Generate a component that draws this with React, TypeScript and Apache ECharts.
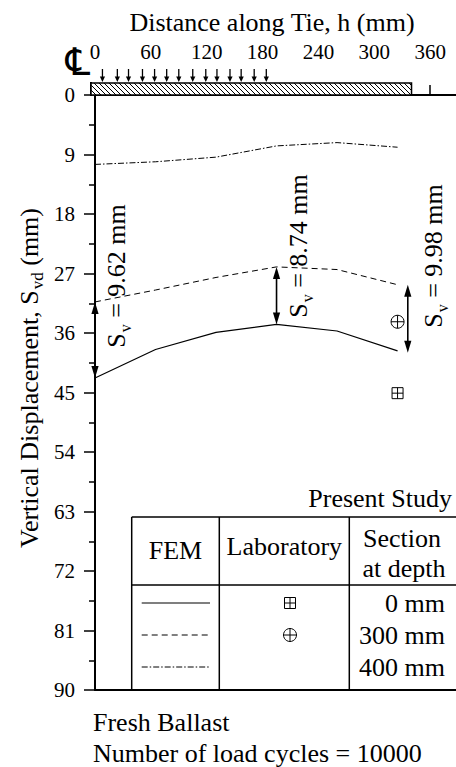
import React, { useEffect, useRef } from "react";
import * as echarts from "echarts";

// ---------- data ----------
const distanceH = [0, 65, 130, 195, 260, 325];
const fem0mm = [42.8, 38.5, 35.9, 34.7, 35.7, 38.7];
const fem300mm = [31.3, 29.5, 27.6, 26.0, 26.4, 28.7];
const fem400mm = [10.5, 10.1, 9.4, 7.7, 7.2, 7.9];
const labH = [325, 325];
const labValue = [45.1, 34.3];
const labKind = ["square", "circle"];
const svH = [0, 195, 336];
const svTop = [31.3, 26.0, 28.7];
const svBottom = [42.8, 34.7, 39.0];
const svValues = ["9.62", "8.74", "9.98"];
const loadH = [8, 24, 36, 51, 64, 77, 90, 105, 119, 131, 145, 157, 171, 184];
const tieLength = 340;
const xMin = 0;
const xMax = 420;
const xInterval = 60;
const xLastLabel = 360;
const yMin = 0;
const yMax = 90;
const yInterval = 9;
const legendDepths = ["0 mm", "300 mm", "400 mm"];

// ---------- styles ----------
const FONT = "'Liberation Serif', 'Times New Roman', serif";
const BLACK = "#000";
const TOP_OFFSET = 12;
const DASH = [6, 4];
const DASHDOT = [6, 2, 1.5, 2];

function squarePlus(x: number, y: number, s: number) {
  const h = s / 2;
  return [
    { type: "rect", shape: { x: x - h, y: y - h, width: s, height: s }, style: { fill: "none", stroke: BLACK, lineWidth: 1 } },
    { type: "line", shape: { x1: x - h, y1: y, x2: x + h, y2: y }, style: { stroke: BLACK, lineWidth: 1 } },
    { type: "line", shape: { x1: x, y1: y - h, x2: x, y2: y + h }, style: { stroke: BLACK, lineWidth: 1 } },
  ];
}
function circlePlus(x: number, y: number, r: number) {
  return [
    { type: "circle", shape: { cx: x, cy: y, r }, style: { fill: "none", stroke: BLACK, lineWidth: 1 } },
    { type: "line", shape: { x1: x - r, y1: y, x2: x + r, y2: y }, style: { stroke: BLACK, lineWidth: 1 } },
    { type: "line", shape: { x1: x, y1: y - r, x2: x, y2: y + r }, style: { stroke: BLACK, lineWidth: 1 } },
  ];
}

function rotatedLabel(x: number, y: number, value: string) {
  return {
    type: "text",
    x,
    y,
    rotation: Math.PI / 2,
    style: {
      text: `{s|S}{v|v}{s| = ${value} mm}`,
      align: "center",
      verticalAlign: "middle",
      fill: BLACK,
      rich: {
        s: { fontSize: 26, fontFamily: FONT, fill: BLACK },
        v: { fontSize: 16, fontFamily: FONT, fill: BLACK, padding: [18, 0, 0, 1] },
      },
    },
  };
}

function text(x: number, y: number, t: string, align = "center", size = 26) {
  return {
    type: "text",
    x,
    y,
    style: { text: t, fontSize: size, fontFamily: FONT, fill: BLACK, align, verticalAlign: "middle" },
  };
}
function hline(x1: number, x2: number, y: number, w = 1.5, dash: any = null) {
  return {
    type: "line",
    shape: { x1, y1: y, x2, y2: y },
    style: { stroke: BLACK, lineWidth: w, lineDash: dash },
  };
}
function vline(x: number, y1: number, y2: number, w = 1.5) {
  return { type: "line", shape: { x1: x, y1, x2: x, y2 }, style: { stroke: BLACK, lineWidth: w } };
}

export default function App() {
  const ref = useRef<HTMLDivElement>(null);
  useEffect(() => {
    const chart = echarts.init(ref.current!, null, { renderer: "svg" });

    const tableTop = 517;
    const headerLine = 585;
    const tableBottom = 690;
    const colA = 131.7;
    const colB = 219.3;
    const colC = 349.3;
    const rowY = [603, 635, 667];

    const option: any = {
      animation: false,
      backgroundColor: "#fff",
      textStyle: { fontFamily: FONT, color: BLACK },
      grid: { left: 95, top: 95, width: 391, height: 595, containLabel: false, outerBoundsMode: "none" },
      xAxis: [
        {
          type: "value",
          position: "top",
          min: xMin,
          max: xMax,
          interval: xInterval,
          offset: TOP_OFFSET,
          axisLine: { show: true, lineStyle: { color: BLACK, width: 2 } },
          axisTick: { show: true, length: 10, lineStyle: { color: BLACK, width: 1.5 } },
          minorTick: { show: true, splitNumber: 2, length: 5, lineStyle: { color: BLACK, width: 1.5 } },
          axisLabel: {
            color: BLACK,
            fontSize: 21,
            fontFamily: FONT,
            margin: 21,
            showMaxLabel: false,
            formatter: (v: number) => (v <= xLastLabel ? String(v) : ""),
          },
          splitLine: { show: false },
        },
        {
          type: "value",
          position: "bottom",
          min: xMin,
          max: xMax,
          axisLine: { show: true, lineStyle: { color: BLACK, width: 2 } },
          axisTick: { show: false },
          axisLabel: { show: false },
          splitLine: { show: false },
        },
      ],
      yAxis: {
        type: "value",
        inverse: true,
        min: yMin,
        max: yMax,
        interval: yInterval,
        offset: 4,
        axisLine: { show: true, lineStyle: { color: BLACK, width: 2 } },
        axisTick: { show: true, length: 11, lineStyle: { color: BLACK, width: 1.5 } },
        minorTick: { show: true, splitNumber: 2, length: 6, lineStyle: { color: BLACK, width: 1.5 } },
        axisLabel: { color: BLACK, fontSize: 21, fontFamily: FONT, margin: 16 },
        splitLine: { show: false },
      },
      series: [
        {
          type: "line",
          name: "0 mm",
          data: distanceH.map((h, i) => [h, fem0mm[i]]),
          symbol: "none",
          lineStyle: { color: BLACK, width: 1.2, type: "solid" },
        },
        {
          type: "line",
          name: "300 mm",
          data: distanceH.map((h, i) => [h, fem300mm[i]]),
          symbol: "none",
          lineStyle: { color: BLACK, width: 1, type: DASH },
        },
        {
          type: "line",
          name: "400 mm",
          data: distanceH.map((h, i) => [h, fem400mm[i]]),
          symbol: "none",
          lineStyle: { color: BLACK, width: 1, type: DASHDOT },
        },
        {
          // tie (hatched)
          type: "custom",
          silent: true,
          clip: false,
          data: [[tieLength, 0]],
          encode: { x: 0, y: 1 },
          renderItem: (params: any, api: any) => {
            const cs = params.coordSys;
            const right = api.coord([api.value(0), 0])[0];
            const left = cs.x - 4;
            const bottom = api.coord([0, 0])[1];
            const top = cs.y - TOP_OFFSET;
            const H = bottom - top;
            const children: any[] = [
              { type: "rect", shape: { x: left, y: top, width: right - left, height: H }, style: { fill: "#fff", stroke: BLACK, lineWidth: 1.5 } },
            ];
            for (let x0 = left - H; x0 < right; x0 += 5) {
              const xs = Math.max(x0, left);
              const xe = Math.min(x0 + H, right);
              if (xe <= xs) continue;
              children.push({
                type: "line",
                shape: { x1: xs, y1: top + (xs - x0), x2: xe, y2: top + (xe - x0) },
                style: { stroke: BLACK, lineWidth: 1 },
              });
            }
            return { type: "group", children };
          },
        },
        {
          // load arrows
          type: "custom",
          silent: true,
          clip: false,
          data: loadH.map((h) => [h, 0]),
          encode: { x: 0, y: 1 },
          renderItem: (params: any, api: any) => {
            const cs = params.coordSys;
            const px = api.coord([api.value(0), 0])[0];
            const ya = cs.y - TOP_OFFSET - 1;
            return {
              type: "group",
              children: [
                { type: "line", shape: { x1: px, y1: ya - 13, x2: px, y2: ya - 4 }, style: { stroke: BLACK, lineWidth: 1.3 } },
                { type: "polygon", shape: { points: [[px - 2.6, ya - 5.5], [px + 2.6, ya - 5.5], [px, ya]] }, style: { fill: BLACK } },
              ],
            };
          },
        },
        {
          // S_v double arrows
          type: "custom",
          silent: true,
          clip: false,
          data: svH.map((h, i) => [h, svTop[i], svBottom[i]]),
          encode: { x: 0, y: 1 },
          renderItem: (params: any, api: any) => {
            const a = api.coord([api.value(0), api.value(1)]);
            const b = api.coord([api.value(0), api.value(2)]);
            const L = 12;
            const w = 3.6;
            return {
              type: "group",
              children: [
                { type: "line", shape: { x1: a[0], y1: a[1] + L - 1, x2: b[0], y2: b[1] - L + 1 }, style: { stroke: BLACK, lineWidth: 1.6 } },
                { type: "polygon", shape: { points: [[a[0], a[1]], [a[0] - w, a[1] + L], [a[0] + w, a[1] + L]] }, style: { fill: BLACK } },
                { type: "polygon", shape: { points: [[b[0], b[1]], [b[0] - w, b[1] - L], [b[0] + w, b[1] - L]] }, style: { fill: BLACK } },
              ],
            };
          },
        },
        {
          // laboratory markers
          type: "custom",
          silent: true,
          clip: false,
          data: labH.map((h, i) => [h, labValue[i], i]),
          encode: { x: 0, y: 1 },
          renderItem: (params: any, api: any) => {
            const p = api.coord([api.value(0), api.value(1)]);
            const kind = labKind[api.value(2)];
            return {
              type: "group",
              children: kind === "square" ? squarePlus(p[0], p[1], 11) : circlePlus(p[0], p[1], 6.5),
            };
          },
        },
      ],
      graphic: [
        text(272, 22, "Distance along Tie, h (mm)"),
        // centre line symbol
        { type: "text", x: 78, y: 62, style: { text: "\u2104", fontSize: 38, fontFamily: "'DejaVu Serif', 'DejaVu Sans', serif", fill: BLACK, align: "center", verticalAlign: "middle" } },
        vline(91, 82, 96, 2),
        {
          type: "text",
          x: 29,
          y: 378,
          rotation: Math.PI / 2,
          style: {
            text: "{a|Vertical Displacement, S}{v|vd}{a| (mm)}",
            align: "center",
            verticalAlign: "middle",
            fill: BLACK,
            rich: {
              a: { fontSize: 26, fontFamily: FONT, fill: BLACK },
              v: { fontSize: 17, fontFamily: FONT, fill: BLACK, padding: [16, 0, 0, 1] },
            },
          },
        },
        rotatedLabel(116, 276, svValues[0]),
        rotatedLabel(298, 246, svValues[1]),
        rotatedLabel(433, 256, svValues[2]),
        // table
        text(452, 498, "Present Study", "right"),
        hline(colA, 460, tableTop),
        hline(colA, 460, headerLine),
        vline(colA, tableTop, tableBottom),
        vline(colB, tableTop, tableBottom),
        vline(colC, tableTop, tableBottom),
        text((colA + colB) / 2, 550, "FEM"),
        text((colB + colC) / 2, 546, "Laboratory"),
        text(402, 538, "Section"),
        text(404, 568, "at depth"),
        hline(141.7, 210, rowY[0], 1.2),
        hline(141.7, 210, rowY[1], 1, DASH),
        hline(141.7, 210, rowY[2], 1, DASHDOT),
        { type: "group", children: squarePlus(290, rowY[0], 11) },
        { type: "group", children: circlePlus(290, rowY[1], 6.5) },
        text(445, rowY[0], legendDepths[0], "right"),
        text(445, rowY[1], legendDepths[1], "right"),
        text(445, rowY[2], legendDepths[2], "right"),
        text(93, 722, "Fresh Ballast", "left"),
        text(93, 753, "Number of load cycles = 10000", "left"),
      ],
    };
    chart.setOption(option);
    return () => chart.dispose();
  }, []);
  return <div ref={ref} style={{ position: "fixed", left: 0, top: 0, width: 456, height: 767 }} />;
}
